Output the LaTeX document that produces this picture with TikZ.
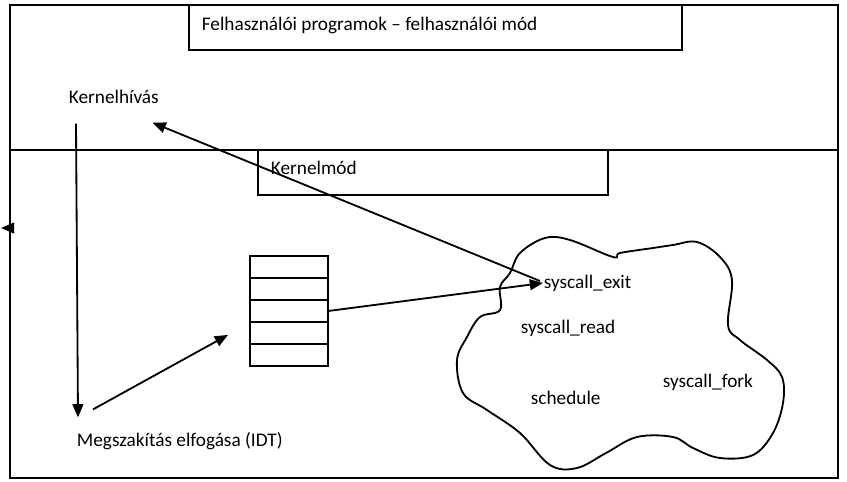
\documentclass[tikz,border=0pt]{standalone}
\usepackage{fontspec}
\setmainfont{Carlito}
\usepackage{tikz}
\usetikzlibrary{arrows, arrows.meta, positioning, calc, matrix}

\tikzset{
lbl/.style={anchor=west, inner sep=0pt, font=\fontsize{13.7}{16}\selectfont},
arr/.style={-{Triangle[length=3.3mm,width=2.7mm]}},
cell/.style={draw, minimum width=19.5mm, minimum height=5.5mm, inner sep=0pt, outer sep=0pt}
}

\begin{document}
\begin{tikzpicture}[line width=1.3pt]
\useasboundingbox (0mm,0mm) rectangle (211.75mm,120.25mm);
\draw (2.5mm,0.75mm) rectangle (209.5mm,119mm);
\draw (2.5mm,82.75mm) -- (209.5mm,82.75mm);

\draw (47.25mm,119mm) rectangle (170.5mm,107.75mm);
\node[lbl] (user) at (50.25mm,114mm) {Felhasználói programok – felhasználói mód};
\draw (64.5mm,82.75mm) rectangle (152mm,71.5mm);
\node[lbl] (kmode) at (67.5mm,78.25mm) {Kernelmód};

\node[lbl] (kh) at (17mm,96mm) {Kernelhívás};
\node[lbl] (ms) at (19mm,10mm) {Megszakítás elfogása (IDT)};

\matrix[matrix anchor=north west, inner sep=0pt, outer sep=0pt, row sep=-1.3pt, nodes=cell] (idt) at (62.25mm,56.5mm) {
\node{}; \\
\node{}; \\
\node{}; \\
\node{}; \\
\node{}; \\
};

% kernel functions
\draw[x=1mm, y=1mm] plot[smooth cycle, tension=0.6] coordinates {
(125,48.5) (127.5,52) (130,57) (136.25,60.75) (142.5,60.25) (153.25,56)
(155,57) (163.25,58.25) (168.25,59) (174.25,59.75) (180,56) (183,50.25)
(182,39) (185,35.25) (191.75,30.25) (195.5,26) (195.75,19.5) (193.25,12)
(188.25,6.5) (180,5.75) (173.25,8.25) (168.25,11) (159.25,11) (151.5,7)
(144.25,3.25) (137.5,4) (130,12) (121.75,17.75) (115.75,22) (114.25,30.25)
(116.75,36) (120,41) (125,42.75)};
\node[lbl] (exit) at (135.75mm,49.5mm) {syscall\_exit};
\node[lbl] (read) at (130mm,38.25mm) {syscall\_read};
\node[lbl] (fork) at (165.5mm,24.75mm) {syscall\_fork};
\node[lbl] (sched) at (132.5mm,20.75mm) {schedule};

\draw[arr] ([xshift=2mm,yshift=-4.75mm]kh.south west) -- ([xshift=0.5mm,yshift=3.5mm]ms.north west);
\draw[arr] ([xshift=4.25mm,yshift=5.5mm]ms.north west) -- ([xshift=-5.25mm,yshift=-6mm]idt.west);
\draw[arr] (idt.east) -- (exit.west);
\draw[arr] ([xshift=-0.75mm,yshift=0.5mm]exit.west) -- ([xshift=-1.75mm,yshift=-4.5mm]kh.south east);
\coordinate (stub) at (2.5mm,63.25mm);
\draw[arr] (stub) -- ++(-2.25mm,0);
\end{tikzpicture}
\end{document}
